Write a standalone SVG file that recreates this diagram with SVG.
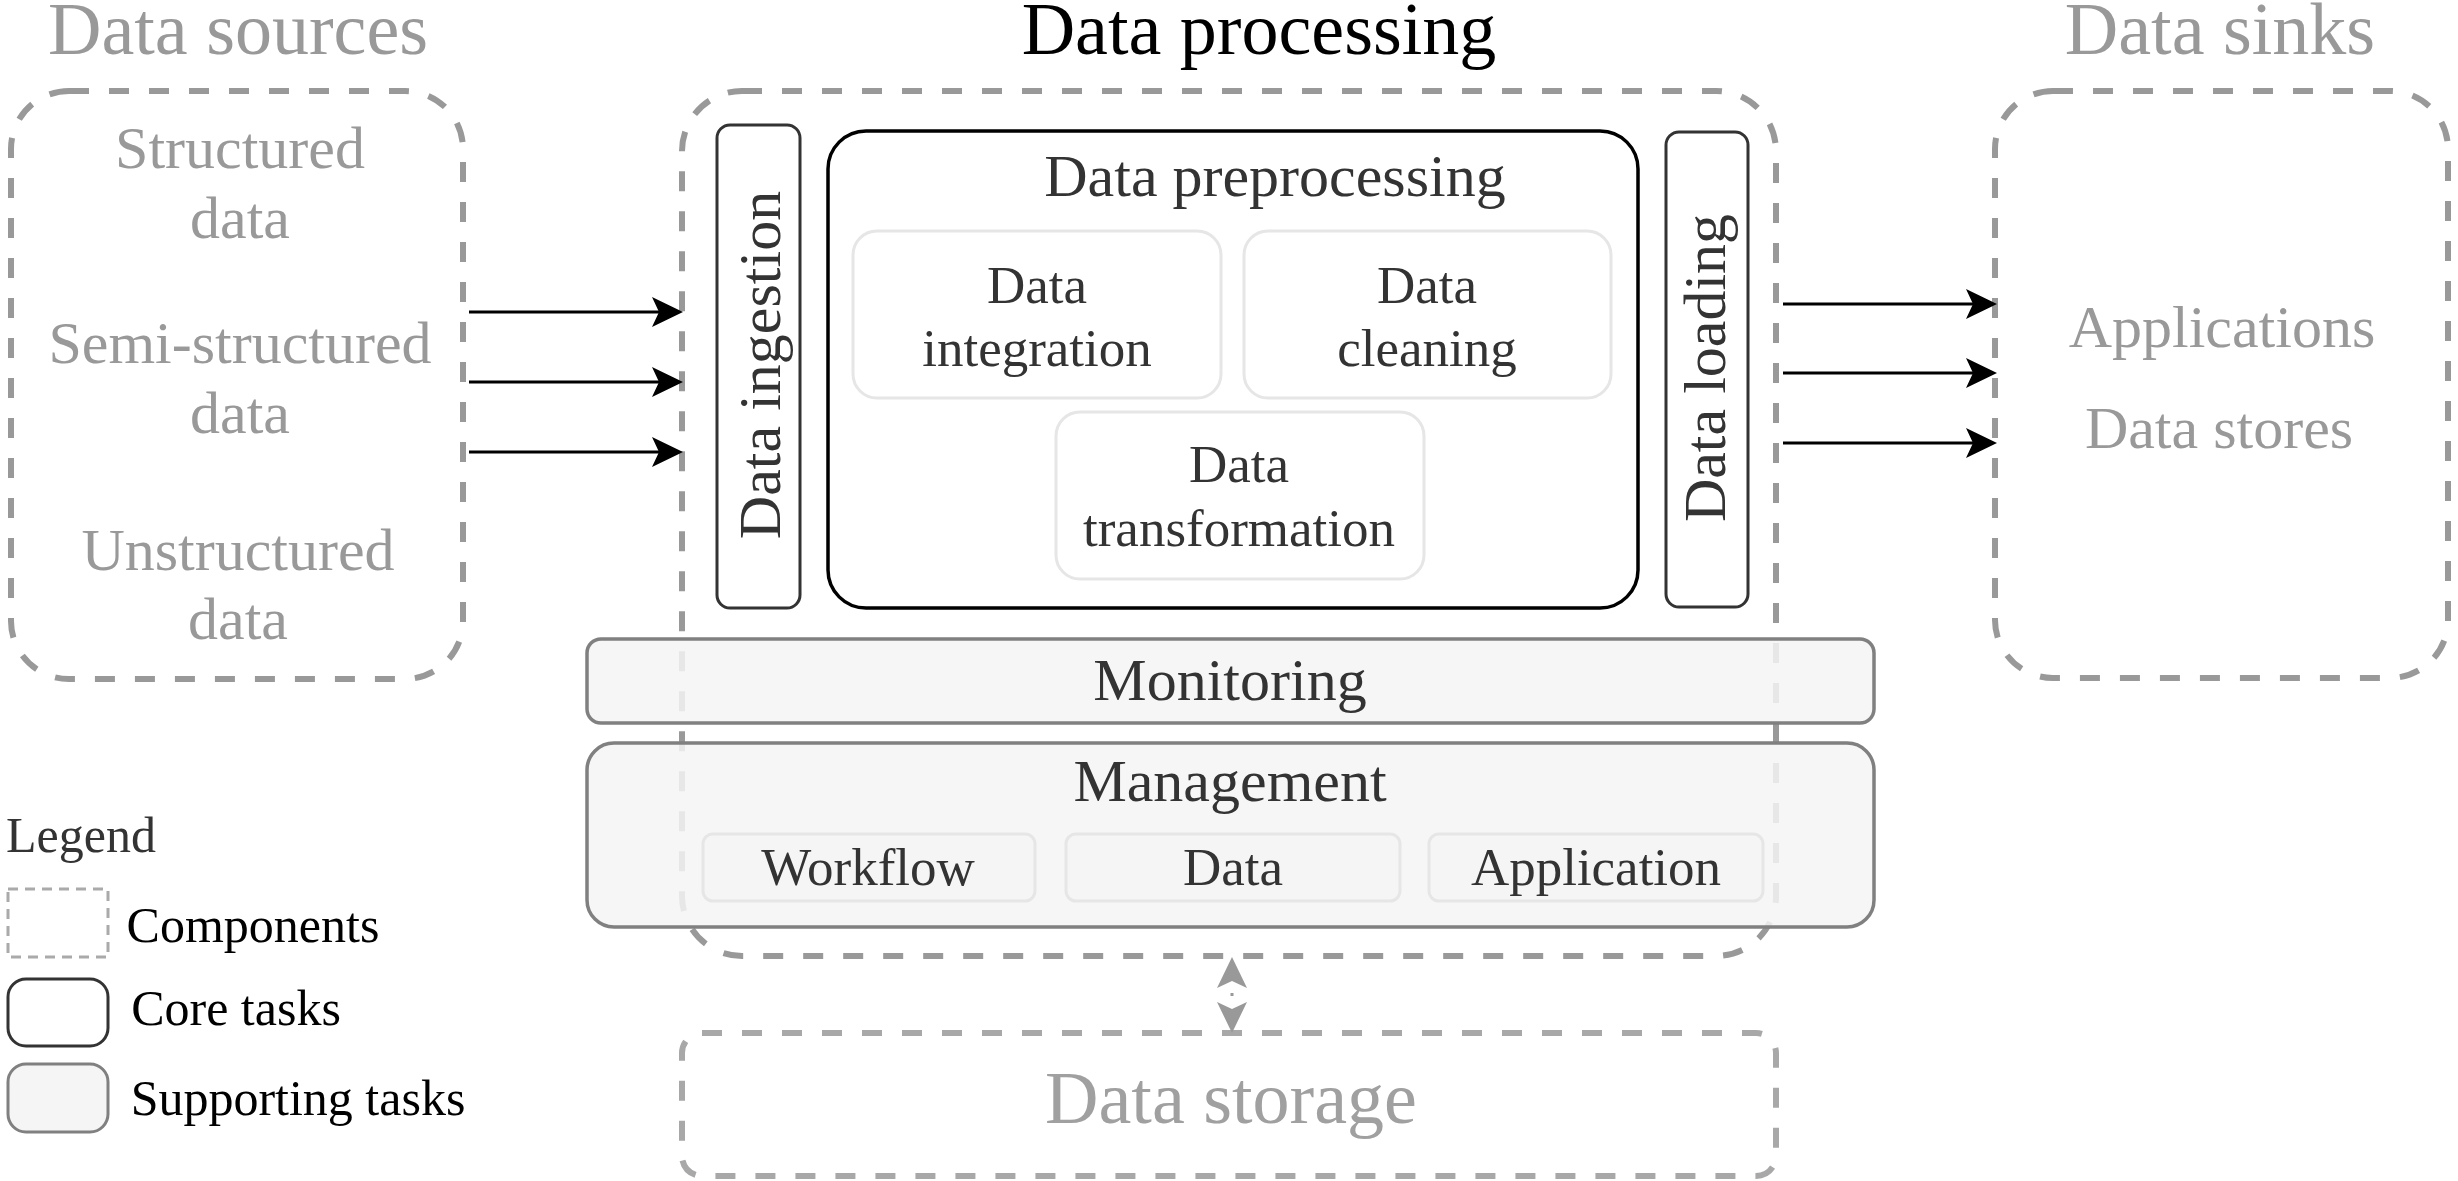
<svg xmlns="http://www.w3.org/2000/svg" width="2458" height="1181" viewBox="0 0 2458 1181">
<defs>
<style>
text{font-family:"Liberation Serif","Times New Roman",serif;text-anchor:middle}
.title{font-size:74px}
.gt{fill:#999999}
.dk{fill:#333333}
.f60{font-size:60px}
.f53{font-size:53px}
.f50{font-size:50px}
.comp{fill:none;stroke:#999999;stroke-width:6;stroke-dasharray:20 20}
.core{fill:#ffffff;stroke:#333333;stroke-width:3}
.corebig{fill:#ffffff;stroke:#000000;stroke-width:3.5}
.sub{fill:none;stroke:#e6e6e6;stroke-width:3}
.supp{fill:#f5f5f5;fill-opacity:0.85;stroke:#808080;stroke-width:3.5}
.subs{fill:#f5f5f5;stroke:#e6e6e6;stroke-width:3}
.arr{stroke:#000000;stroke-width:3;fill:none;marker-end:url(#ah)}
</style>
<marker id="ah" markerUnits="userSpaceOnUse" markerWidth="44" markerHeight="44" viewBox="-36 -22 44 44" refX="-5" refY="0" orient="auto">
<path d="M0,0 L-31,-15 L-24,0 L-31,15 Z" fill="#000000"/>
</marker>
<marker id="ahg" markerUnits="userSpaceOnUse" markerWidth="44" markerHeight="44" viewBox="-36 -22 44 44" refX="-25" refY="0" orient="auto-start-reverse">
<path d="M0,0 L-31,-15 L-24,0 L-31,15 Z" fill="#999999"/>
</marker>
</defs>
<rect x="0" y="0" width="2458" height="1181" fill="#ffffff"/>

<g id="sources">
<text class="title gt" x="238" y="54">Data sources</text>
<rect class="comp" x="11" y="91" width="452" height="588" rx="58"/>
<text class="f60 gt" x="240" y="168">Structured</text>
<text class="f60 gt" x="240" y="238">data</text>
<text class="f60 gt" x="240" y="363">Semi-structured</text>
<text class="f60 gt" x="240" y="433">data</text>
<text class="f60 gt" x="238" y="570">Unstructured</text>
<text class="f60 gt" x="238" y="639">data</text>
</g>

<g id="processing">
<text class="title" x="1259" y="54" fill="#000000">Data processing</text>
<rect class="comp" x="682" y="91" width="1094" height="865" rx="60"/>
</g>

<g id="ingestion">
<rect class="core" x="717" y="125" width="83" height="483" rx="13"/>
<text class="f60 dk" transform="translate(780,365) rotate(-90)">Data ingestion</text>
</g>

<g id="preprocessing">
<rect class="corebig" x="828" y="131" width="810" height="477" rx="38"/>
<text class="f60 dk" x="1275" y="196">Data preprocessing</text>
</g>

<g id="integration">
<rect class="sub" x="853" y="231" width="368" height="167" rx="24"/>
<text class="f53 dk" x="1037" y="303">Data</text>
<text class="f53 dk" x="1037" y="366">integration</text>
</g>

<g id="cleaning">
<rect class="sub" x="1244" y="231" width="367" height="167" rx="24"/>
<text class="f53 dk" x="1427" y="303">Data</text>
<text class="f53 dk" x="1427" y="366">cleaning</text>
</g>

<g id="transformation">
<rect class="sub" x="1056" y="412" width="368" height="167" rx="24"/>
<text class="f53 dk" x="1239" y="482">Data</text>
<text class="f53 dk" x="1239" y="546">transformation</text>
</g>

<g id="loading">
<rect class="core" x="1666" y="132" width="82" height="475" rx="13"/>
<text class="f60 dk" transform="translate(1725,368) rotate(-90)">Data loading</text>
</g>

<g id="monitoring">
<rect class="supp" x="587" y="639" width="1287" height="84" rx="14"/>
<text class="f60 dk" x="1230" y="700">Monitoring</text>
</g>

<g id="management">
<rect class="supp" x="587" y="743" width="1287" height="184" rx="27"/>
<text class="f60 dk" x="1230" y="801">Management</text>
<rect class="subs" x="703" y="834" width="332" height="67" rx="10"/>
<text class="f53 dk" x="868" y="885">Workflow</text>
<rect class="subs" x="1066" y="834" width="334" height="67" rx="10"/>
<text class="f53 dk" x="1233" y="885">Data</text>
<rect class="subs" x="1429" y="834" width="334" height="67" rx="10"/>
<text class="f53 dk" x="1596" y="885">Application</text>
</g>

<g id="sinks">
<text class="title gt" x="2220" y="54">Data sinks</text>
<rect class="comp" x="1995" y="91" width="453" height="587" rx="58"/>
<text class="f60 gt" x="2222" y="347">Applications</text>
<text class="f60 gt" x="2219" y="448">Data stores</text>
</g>

<g id="storage">
<rect x="682" y="1033" width="1094" height="143" rx="20" fill="none" stroke="#a8a8a8" stroke-width="6" stroke-dasharray="20 20"/>
<text class="title" x="1231" y="1123" fill="#a0a0a0">Data storage</text>
</g>

<g id="connectors">
<path class="arr" d="M469,312 L678,312"/>
<path class="arr" d="M469,382 L678,382"/>
<path class="arr" d="M469,452 L678,452"/>
<path class="arr" d="M1783,304 L1992,304"/>
<path class="arr" d="M1783,373 L1992,373"/>
<path class="arr" d="M1783,443 L1992,443"/>
<path d="M1232,982 L1232,1008" fill="none" stroke="#999999" stroke-width="3" stroke-dasharray="0 11 3 30" marker-start="url(#ahg)" marker-end="url(#ahg)"/>
</g>

<g id="legend">
<text class="f50 dk" x="81" y="852">Legend</text>
<rect x="8" y="889" width="100" height="68" fill="none" stroke="#aaaaaa" stroke-width="3" stroke-dasharray="10 7"/>
<text class="f50" x="253" y="942" fill="#000000">Components</text>
<rect x="8" y="979" width="100" height="67" rx="18" fill="#ffffff" stroke="#333333" stroke-width="3"/>
<text class="f50" x="236" y="1025" fill="#000000">Core tasks</text>
<rect x="8" y="1064" width="100" height="68" rx="18" fill="#f5f5f5" stroke="#808080" stroke-width="3"/>
<text class="f50" x="298" y="1115" fill="#000000">Supporting tasks</text>
</g>
</svg>
